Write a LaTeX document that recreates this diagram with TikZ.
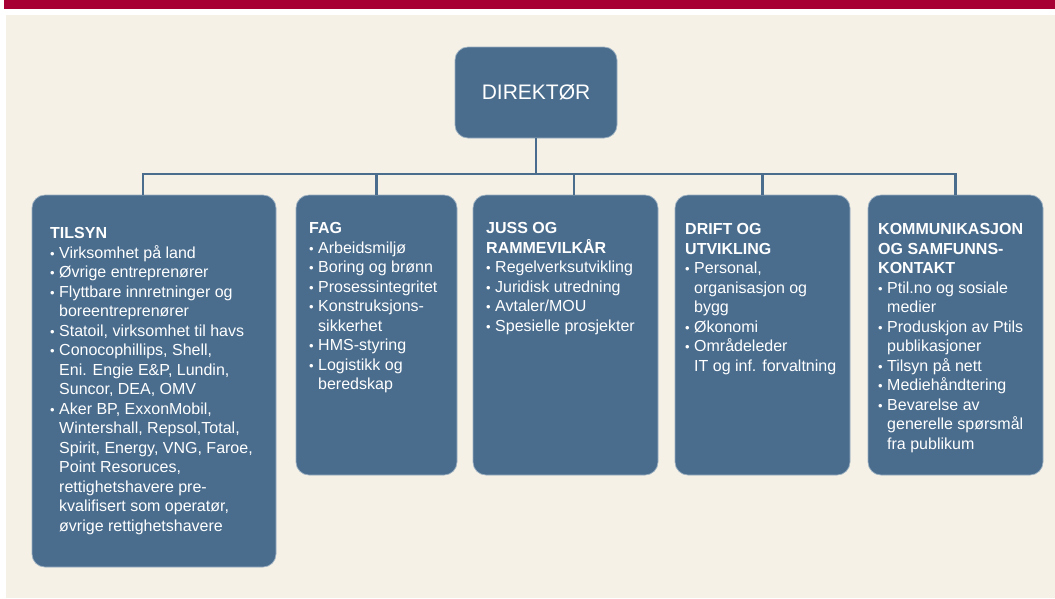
\documentclass[tikz,border=0pt]{standalone}
\usepackage{xcolor}
\usepackage{tikz}
\usetikzlibrary{positioning}
\usepackage{fontspec}
\setmainfont{Liberation Sans}

\definecolor{boksblaa}{HTML}{4A6D8E}
\definecolor{ptilrod}{HTML}{A60034}
\definecolor{krem}{HTML}{F5F1E6}

\newcommand{\pkt}{\makebox[9pt][l]{\raisebox{0.3pt}{\fontsize{13}{13}\selectfont\textbullet}}}
\newcommand{\inn}{\hspace*{9pt}}

\begin{document}
\begin{tikzpicture}[x=1pt, y=-1pt,
  boks/.style={rectangle, rounded corners=13pt, fill=boksblaa, draw=boksblaa!55!white,
    line width=0.7pt, inner sep=0pt},
  tekst/.style={anchor=north west, inner sep=0pt, align=left, text=white,
    font=\fontsize{16}{19.5}\selectfont},
  linje/.style={draw=boksblaa, line width=2.6pt}]

\useasboundingbox (0,0) rectangle (1055,598);

% Bakgrunn
\fill[white] (0,0) rectangle (1055,598);
\fill[ptilrod] (4,0) rectangle (1055,9);
\fill[krem] (6,15) rectangle (1055,598);

% Direktør
\node[boks, minimum width=162pt, minimum height=91pt, text=white,
  font=\fontsize{21}{25}\selectfont] (direktor) at (536,92.5) {DIREKTØR};

% Avdelingsbokser
\node[boks, minimum width=244pt, minimum height=372pt] (tilsyn) at (154,381) {};
\node[boks, minimum width=161pt, minimum height=280pt] (fag) at (376.5,335) {};
\node[boks, minimum width=185pt, minimum height=280pt] (juss) at (565.5,335) {};
\node[boks, minimum width=175pt, minimum height=280pt] (drift) at (762.5,335) {};
\node[boks, minimum width=175pt, minimum height=280pt] (komm) at (955.5,335) {};

% Tekst i boksene
\node[tekst] (tilsyntxt) at (50,227.5) {\textbf{TILSYN}\\
\pkt Virksomhet på land\\
\pkt Øvrige entreprenører\\
\pkt Flyttbare innretninger og\\
\inn boreentreprenører\\
\pkt Statoil, virksomhet til havs\\
\pkt Conocophillips, Shell,\\
\inn Eni. Engie E\&P, Lundin,\\
\inn Suncor, DEA, OMV\\
\pkt Aker BP, ExxonMobil,\\
\inn Wintershall, Repsol,Total,\\
\inn Spirit, Energy, VNG, Faroe,\\
\inn Point Resoruces,\\
\inn rettighetshavere pre-\\
\inn kvalifisert som operatør,\\
\inn øvrige rettighetshavere};

\node[tekst] (fagtxt) at (309,222.5) {\textbf{FAG}\\
\pkt Arbeidsmiljø\\
\pkt Boring og brønn\\
\pkt Prosessintegritet\\
\pkt Konstruksjons-\\
\inn sikkerhet\\
\pkt HMS-styring\\
\pkt Logistikk og\\
\inn beredskap};

\node[tekst] (jusstxt) at (486,222.5) {\textbf{JUSS OG}\\
\textbf{RAMMEVILKÅR}\\
\pkt Regelverksutvikling\\
\pkt Juridisk utredning\\
\pkt Avtaler/MOU\\
\pkt Spesielle prosjekter};

\node[tekst] (drifttxt) at (685,223.5) {\textbf{DRIFT OG}\\
\textbf{UTVIKLING}\\
\pkt Personal,\\
\inn organisasjon og\\
\inn bygg\\
\pkt Økonomi\\
\pkt Områdeleder\\
\inn IT og inf. forvaltning};

\node[tekst] (kommtxt) at (878,223.5) {\textbf{KOMMUNIKASJON}\\
\textbf{OG SAMFUNNS-}\\
\textbf{KONTAKT}\\
\pkt Ptil.no og sosiale\\
\inn medier\\
\pkt Produskjon av Ptils\\
\inn publikasjoner\\
\pkt Tilsyn på nett\\
\pkt Mediehåndtering\\
\pkt Bevarelse av\\
\inn generelle spørsmål\\
\inn fra publikum};

% Linjer
\coordinate (buss) at (536,174);
\coordinate (b1) at (143,174);
\coordinate (b2) at (376.5,174);
\coordinate (b3) at (574,174);
\coordinate (b4) at (762.5,174);
\coordinate (b5) at (955.5,174);

\draw[linje] (direktor) -- (buss);
\draw[linje, line cap=rect] (b1) -- (b5);
\draw[linje] (b1) -- (b1 |- tilsyn.north);
\draw[linje] (b2) -- (fag);
\draw[linje] (b3) -- (b3 |- juss.north);
\draw[linje] (b4) -- (drift);
\draw[linje] (b5) -- (komm);

\end{tikzpicture}
\end{document}
